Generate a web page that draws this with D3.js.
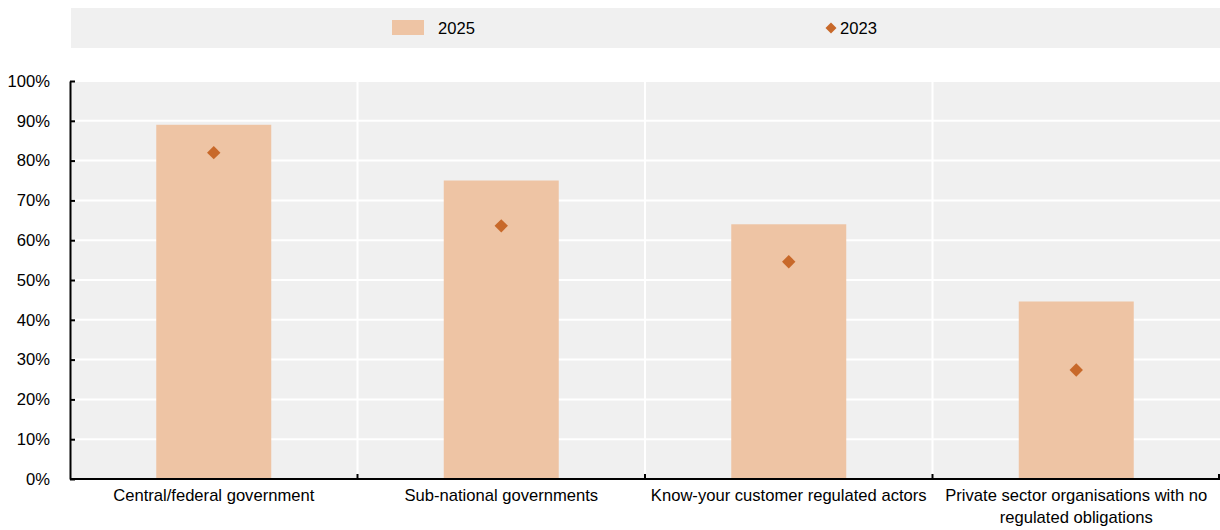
<!DOCTYPE html>
<html>
<head>
<meta charset="utf-8">
<script src="https://cdn.jsdelivr.net/npm/d3@7"></script>
<style>
body{margin:0;background:#fff;}
text{font-family:"Liberation Sans",Arial,sans-serif;}
</style>
</head>
<body>
<svg id="chart" width="1220" height="530"></svg>
<script>
const categories = ["Central/federal government","Sub-national governments","Know-your customer regulated actors","Private sector organisations with no regulated obligations"];
const values2025 = [89, 75, 64, 44.6];
const values2023 = [82, 63.6, 54.6, 27.4];
const yTicks = [0,10,20,30,40,50,60,70,80,90,100];
const seriesNames = ["2025","2023"];

const svg = d3.select("#chart");
const W = 1220, H = 530;
const m = {left:70, right:0, top:81, bottom:51};
const pw = W - m.left - m.right, ph = H - m.top - m.bottom;
const fs = 16.6;

const x = d3.scaleBand().domain(categories).range([m.left, W - m.right]).paddingInner(0).paddingOuter(0);
const y = d3.scaleLinear().domain([0,100]).range([m.top + ph, m.top]);

const barColor = "#EEC4A4", dotColor = "#C8692A", bg = "#F0F0F0";

// legend box
svg.append("rect").attr("x",71).attr("y",8).attr("width",1149).attr("height",40).attr("fill",bg);
svg.append("rect").attr("x",392).attr("y",20).attr("width",32).attr("height",15).attr("fill",barColor);
svg.append("text").attr("x",438).attr("y",34).attr("font-size",fs).attr("fill","#000").text(seriesNames[0]);
svg.append("path").attr("d",d3.symbol(d3.symbolSquare,60)()).attr("transform","translate(831,28) rotate(45)").attr("fill",dotColor);
svg.append("text").attr("x",840).attr("y",34).attr("font-size",fs).attr("fill","#000").text(seriesNames[1]);

// plot background
svg.append("rect").attr("x",m.left).attr("y",m.top).attr("width",pw).attr("height",ph).attr("fill",bg);

// horizontal gridlines
svg.append("g").selectAll("line").data(yTicks.filter(d=>d>0)).join("line")
  .attr("x1",m.left).attr("x2",W-m.right).attr("y1",d=>y(d)).attr("y2",d=>y(d))
  .attr("stroke","#fff").attr("stroke-width",2);
// vertical gridlines at band boundaries
const bounds = categories.slice(1).map(c=>x(c));
svg.append("g").selectAll("line").data(bounds).join("line")
  .attr("x1",d=>d).attr("x2",d=>d).attr("y1",m.top).attr("y2",m.top+ph)
  .attr("stroke","#fff").attr("stroke-width",2);

// bars
const bw = x.bandwidth()*0.4;
svg.append("g").selectAll("rect").data(categories).join("rect")
  .attr("x",(d)=>x(d)+x.bandwidth()/2-bw/2)
  .attr("y",(d,i)=>y(values2025[i]))
  .attr("width",bw)
  .attr("height",(d,i)=>y(0)-y(values2025[i]))
  .attr("fill",barColor);

// diamonds
const sym = d3.symbol(d3.symbolSquare,90)();
svg.append("g").selectAll("path").data(categories).join("path")
  .attr("d",sym)
  .attr("transform",(d,i)=>`translate(${x(d)+x.bandwidth()/2},${y(values2023[i])}) rotate(45)`)
  .attr("fill",dotColor);

// y axis
const yAxis = svg.append("g").attr("transform",`translate(${m.left},0)`)
  .call(d3.axisLeft(y).tickValues(yTicks).tickFormat(d=>d+"%").tickSize(0).tickPadding(20));
yAxis.select(".domain").attr("stroke","#000").attr("stroke-width",2);
yAxis.selectAll("text").attr("font-size",fs).attr("fill","#000").attr("font-family","Liberation Sans, Arial, sans-serif");
yAxis.selectAll(".tick").append("line").attr("x1",0).attr("x2",5).attr("stroke","#000").attr("stroke-width",2);

// x axis
const xg = svg.append("g").attr("transform",`translate(0,${m.top+ph})`);
xg.append("line").attr("x1",m.left).attr("x2",W-m.right).attr("stroke","#000").attr("stroke-width",2);
xg.selectAll("line.t").data(bounds.concat([W-m.right-1])).join("line").attr("class","t")
  .attr("x1",d=>d).attr("x2",d=>d).attr("y1",0).attr("y2",-5).attr("stroke","#000").attr("stroke-width",2);

// category labels with wrapping
function wrapLines(t){
  if(t.length>40){
    const words=t.split(" "); let l1="",l2="";
    for(const w of words){ if((l1+" "+w).trim().length<=40 && !l2) l1=(l1+" "+w).trim(); else l2=(l2+" "+w).trim(); }
    return [l1,l2];
  }
  return [t];
}
const lab = xg.selectAll("text.cat").data(categories).join("text").attr("class","cat")
  .attr("x",d=>x(d)+x.bandwidth()/2).attr("y",22).attr("text-anchor","middle").attr("font-size",fs).attr("fill","#000");
lab.each(function(d){
  const lines = wrapLines(d);
  d3.select(this).selectAll("tspan").data(lines).join("tspan")
    .attr("x",x(d)+x.bandwidth()/2).attr("dy",(l,i)=>i===0?0:22).text(l=>l);
});
</script>
</body>
</html>
